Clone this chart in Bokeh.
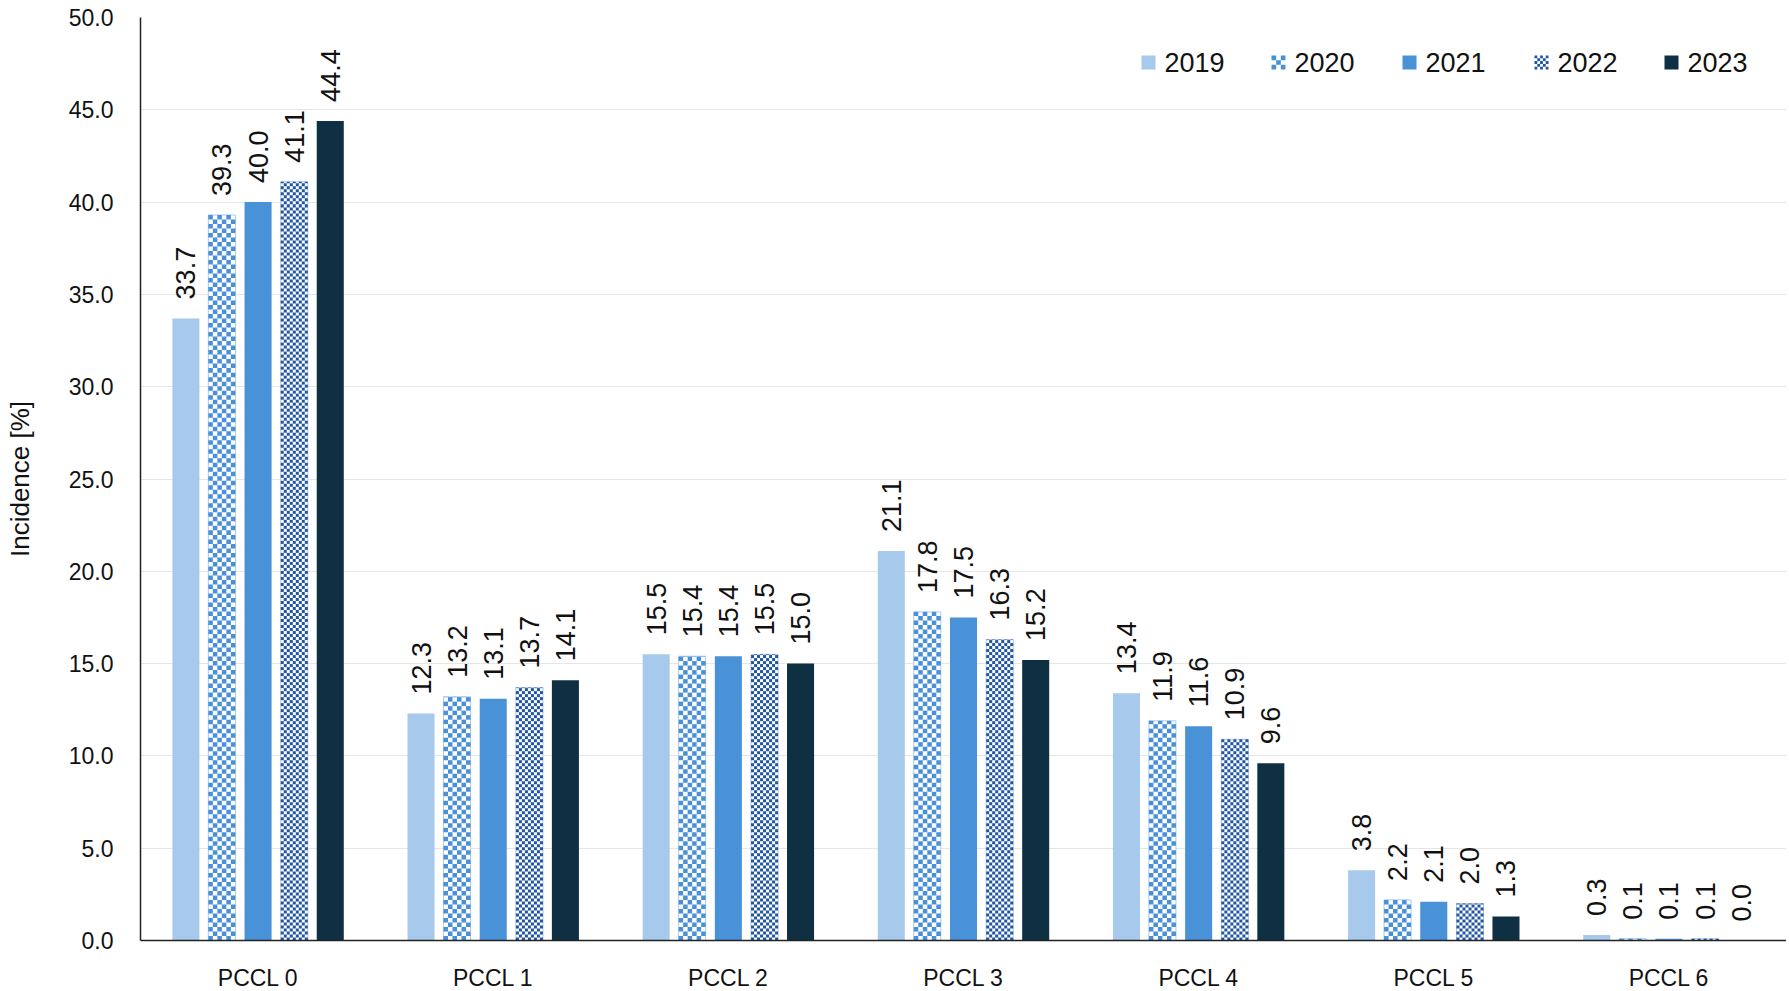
import math
from bokeh.plotting import figure
from bokeh.models import (ColumnDataSource, FactorRange, Range1d,
                          SingleIntervalTicker, PrintfTickFormatter)
from bokeh.core.properties import value
from bokeh.embed import file_html
from bokeh.resources import INLINE

categories = ["PCCL 0", "PCCL 1", "PCCL 2", "PCCL 3", "PCCL 4", "PCCL 5", "PCCL 6"]
years = ["2019", "2020", "2021", "2022", "2023"]
v2019 = [33.7, 12.3, 15.5, 21.1, 13.4, 3.8, 0.3]
v2020 = [39.3, 13.2, 15.4, 17.8, 11.9, 2.2, 0.1]
v2021 = [40.0, 13.1, 15.4, 17.5, 11.6, 2.1, 0.1]
v2022 = [41.1, 13.7, 15.5, 16.3, 10.9, 2.0, 0.1]
v2023 = [44.4, 14.1, 15.0, 15.2, 9.6, 1.3, 0.0]
series = [v2019, v2020, v2021, v2022, v2023]
y_title = "Incidence [%]"

FONT = "Liberation Sans"
FW, FH = 1646, 923          # frame size in px
YMAX = 50.0
PX_PER_X = FW / len(categories)
PX_PER_Y = FH / YMAX


def px_x(px):   # frame pixel (from left) -> synthetic x coordinate
    return px / PX_PER_X


def px_y(px):   # frame pixel (from bottom) -> y data coordinate
    return px / PX_PER_Y


p = figure(frame_width=FW, frame_height=FH, x_range=FactorRange(*categories),
           y_range=Range1d(0, YMAX), output_backend="svg", toolbar_location=None,
           min_border_left=140, min_border_right=0, min_border_top=17,
           min_border_bottom=43)
p.outline_line_color = None

styles = [
    dict(kind="solid", color="#A7CAEC"),
    dict(kind="checker", color="#4A90D9", ncols=6, outline="#A8CBEF", leg_n=3),
    dict(kind="solid", color="#4A92D8"),
    dict(kind="checker", color="#1F55A3", ncols=9, outline="#B4C4E0", leg_n=5),
    dict(kind="solid", color="#0F3043"),
]
offsets = [-0.307, -0.154, 0.0, 0.154, 0.307]
bar_w = 0.115

for yr, vals, off, st in zip(years, series, offsets, styles):
    xc = [i + 0.5 + off for i in range(len(categories))]
    src = ColumnDataSource(dict(left=[x - bar_w / 2 for x in xc],
                                right=[x + bar_w / 2 for x in xc],
                                x=xc, top=vals, bottom=[0] * len(vals),
                                lbl=["%.1f" % v for v in vals]))
    if st["kind"] == "solid":
        p.quad(left="left", right="right", top="top", bottom="bottom", source=src,
               fill_color=st["color"], line_color=None)
    else:
        p.quad(left="left", right="right", top="top", bottom="bottom", source=src,
               fill_color="white", line_color=st["outline"], line_width=1)
        n = st["ncols"]
        sx = bar_w / n
        sy = sx * PX_PER_X / PX_PER_Y
        L, R, B, T = [], [], [], []
        for x0, v in zip(src.data["left"], vals):
            rows = int(math.ceil(v / sy))
            for r in range(rows):
                b = r * sy
                t = min(v, b + sy)
                for c in range(n):
                    if (r + c) % 2 == 0:
                        L.append(x0 + c * sx)
                        R.append(x0 + (c + 1) * sx)
                        B.append(b)
                        T.append(t)
        p.quad(left=L, right=R, bottom=B, top=T, fill_color=st["color"],
               line_color=None)
    p.text(x="x", y="top", text="lbl", source=src,
           angle=math.pi / 2, text_align="left", text_baseline="middle",
           y_offset=-19, text_font=value(FONT), text_font_size="27px",
           text_color="#111111")

# ---- legend (positions given in frame pixels) ----
leg_x = [1001, 1131, 1262, 1394, 1524]
leg_y = FH - 45
gs = 14
for yr, st, lx in zip(years, styles, leg_x):
    y0, y1 = px_y(leg_y - gs / 2), px_y(leg_y + gs / 2)
    if st["kind"] == "solid":
        p.quad(left=[px_x(lx)], right=[px_x(lx + gs)], bottom=[y0], top=[y1],
               fill_color=st["color"], line_color=None)
    else:
        n = st["leg_n"]
        s = gs / n
        L, R, B, T = [], [], [], []
        for r in range(n):
            for c in range(n):
                if (r + c) % 2 == 0:
                    L.append(px_x(lx + c * s)); R.append(px_x(lx + (c + 1) * s))
                    B.append(px_y(leg_y - gs / 2 + r * s))
                    T.append(px_y(leg_y - gs / 2 + (r + 1) * s))
        p.quad(left=[px_x(lx)], right=[px_x(lx + gs)], bottom=[y0], top=[y1],
               fill_color="white", line_color=None)
        p.quad(left=L, right=R, bottom=B, top=T, fill_color=st["color"],
               line_color=None)
    p.text(x=[px_x(lx + gs + 9)], y=[px_y(leg_y)], text=[yr], text_align="left",
           text_baseline="middle", text_font=value(FONT), text_font_size="27px",
           text_color="#111111")

p.yaxis.ticker = SingleIntervalTicker(interval=5)
p.yaxis.formatter = PrintfTickFormatter(format="%.1f")
p.yaxis.axis_label = y_title
p.yaxis.axis_label_text_font = FONT
p.yaxis.axis_label_text_font_size = "26px"
p.yaxis.axis_label_text_font_style = "normal"
p.yaxis.axis_label_text_color = "#111111"
p.yaxis.axis_label_standoff = 31
p.yaxis.major_label_standoff = 21
p.yaxis.major_label_text_font_size = "23px"
p.yaxis.major_label_text_font = FONT
p.yaxis.major_label_text_color = "#111111"
p.yaxis.axis_line_color = "#222222"
p.yaxis.axis_line_width = 1.5
p.yaxis.major_tick_line_color = None
p.yaxis.minor_tick_line_color = None

p.xaxis.major_label_text_font_size = "23px"
p.xaxis.major_label_text_font = FONT
p.xaxis.major_label_text_color = "#111111"
p.xaxis.major_label_standoff = 18
p.xaxis.axis_line_color = "#222222"
p.xaxis.axis_line_width = 1.5
p.xaxis.major_tick_line_color = None
p.xaxis.minor_tick_line_color = None

p.xgrid.grid_line_color = None
p.ygrid.grid_line_color = "#E6E6E6"
p.ygrid.grid_line_width = 1

open("out.html", "w").write(file_html(p, INLINE))
